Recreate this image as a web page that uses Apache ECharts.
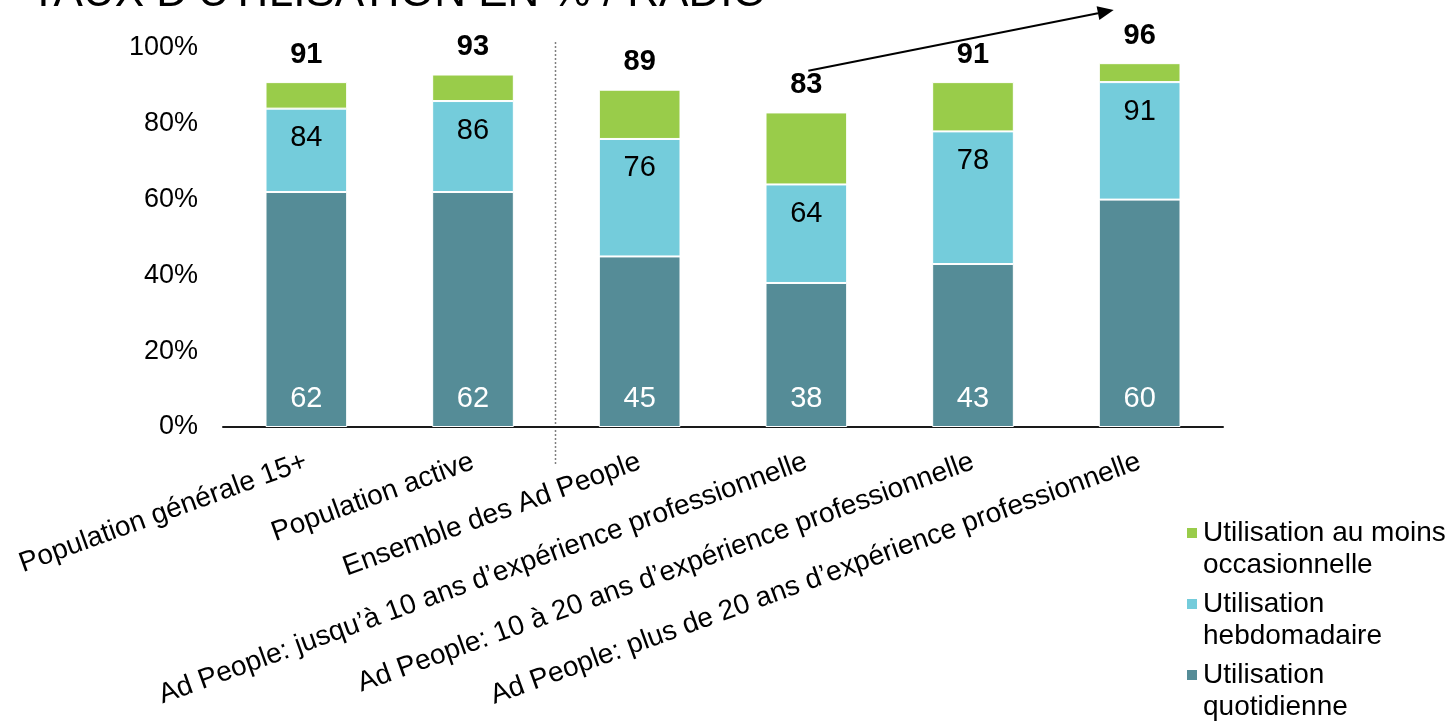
<!DOCTYPE html>
<html>
<head>
<meta charset="utf-8">
<script src="https://cdn.jsdelivr.net/npm/echarts@6/dist/echarts.min.js"></script>
<style>
  html, body { margin: 0; padding: 0; background: #ffffff; }
  #chart { width: 1450px; height: 721px; }
</style>
</head>
<body>
<div id="chart"></div>
<script>
// Radio usage rates (%), by population group
const categories = [
  'Population générale 15+',
  'Population active',
  'Ensemble des Ad People',
  'Ad People: jusqu’à 10 ans d’expérience professionnelle',
  'Ad People: 10 à 20 ans d’expérience professionnelle',
  'Ad People: plus de 20 ans d’expérience professionnelle'
];
// Daily use
const dailyValues = [62, 62, 45, 38, 43, 60];
// Weekly use (cumulative: includes daily)
const weeklyCumulative = [84, 86, 76, 64, 78, 91];
// At least occasional use (cumulative: includes weekly)
const occasionalCumulative = [91, 93, 89, 83, 91, 96];

const seriesNames = ['Utilisation quotidienne', 'Utilisation hebdomadaire', 'Utilisation au moins occasionnelle'];
const legendLabels = {
  'Utilisation au moins occasionnelle': 'Utilisation au moins\noccasionnelle',
  'Utilisation hebdomadaire': 'Utilisation\nhebdomadaire',
  'Utilisation quotidienne': 'Utilisation\nquotidienne'
};
const titleText = 'TAUX D’UTILISATION EN % / RADIO';

// stacked segments derived from the cumulative figures
const weeklySegment = weeklyCumulative.map((v, i) => v - dailyValues[i]);
const occasionalSegment = occasionalCumulative.map((v, i) => v - weeklyCumulative[i]);

const FONT = '"Liberation Sans", Arial, sans-serif';
const COLOR_DAILY = '#558C97';
const COLOR_WEEKLY = '#74CCDB';
const COLOR_OCC = '#99CC4A';

const chart = echarts.init(document.getElementById('chart'), null, { renderer: 'canvas' });

const barBorder = { borderColor: '#ffffff', borderWidth: 1 };

const option = {
  animation: false,
  backgroundColor: '#ffffff',
  textStyle: { fontFamily: FONT },
  grid: { left: 223, right: 227, top: 48, bottom: 294 },
  legend: {
    orient: 'vertical',
    left: 1185,
    top: 485,
    height: 320,
    padding: 0,
    itemWidth: 12,
    itemHeight: 12,
    // each label carries a leading empty line so the swatch sits beside its first line
    itemGap: -25,
    icon: 'rect',
    data: [seriesNames[2], seriesNames[1], seriesNames[0]],
    formatter: name => '\n' + legendLabels[name],
    textStyle: { fontFamily: FONT, fontSize: 28, lineHeight: 32, color: '#000000' },
    selectedMode: false
  },
  xAxis: {
    type: 'category',
    data: categories,
    axisLine: { lineStyle: { color: '#1a1a1a', width: 2 } },
    axisTick: { show: false },
    axisLabel: {
      interval: 0,
      rotate: 20,
      margin: 34,
      fontFamily: FONT,
      fontSize: 28,
      color: '#000000'
    }
  },
  yAxis: {
    type: 'value',
    min: 0,
    max: 100,
    interval: 20,
    axisLine: { show: false },
    axisTick: { show: false },
    splitLine: { show: false },
    axisLabel: {
      formatter: '{value}%',
      margin: 25,
      fontFamily: FONT,
      fontSize: 27,
      color: '#000000'
    }
  },
  series: [
    {
      name: seriesNames[0],
      type: 'bar',
      stack: 'usage',
      barWidth: '49%',
      data: dailyValues,
      itemStyle: Object.assign({ color: COLOR_DAILY }, barBorder),
      label: {
        show: true,
        position: 'insideBottom',
        distance: 14,
        color: '#ffffff',
        fontFamily: FONT,
        fontSize: 29
      }
    },
    {
      name: seriesNames[1],
      type: 'bar',
      stack: 'usage',
      data: weeklySegment,
      itemStyle: Object.assign({ color: COLOR_WEEKLY }, barBorder),
      label: {
        show: true,
        position: 'insideTop',
        distance: 15,
        color: '#000000',
        fontFamily: FONT,
        fontSize: 29,
        formatter: p => String(weeklyCumulative[p.dataIndex])
      }
    },
    {
      name: seriesNames[2],
      type: 'bar',
      stack: 'usage',
      data: occasionalSegment,
      itemStyle: Object.assign({ color: COLOR_OCC }, barBorder),
      label: {
        show: true,
        position: 'top',
        distance: 13,
        color: '#000000',
        fontFamily: FONT,
        fontSize: 29,
        fontWeight: 'bold',
        formatter: p => String(occasionalCumulative[p.dataIndex])
      }
    }
  ]
};

chart.setOption(option);

// Annotations placed from the axes' own scales
const toPx = (cat, val) => chart.convertToPixel({ xAxisIndex: 0, yAxisIndex: 0 }, [cat, val]);
const c1 = toPx(1, 0);
const c2 = toPx(2, 0);
const sepX = Math.round((c1[0] + c2[0]) / 2) - 0.5;

// trend arrow from the 83 total towards the 96 total
const aStart = toPx(3, 94);
const aEndCenter = toPx(5, 110);
const aEnd = [aEndCenter[0] - 26, aEndCenter[1]];
const ang = Math.atan2(aEnd[1] - aStart[1], aEnd[0] - aStart[0]);
const headLen = 16, headHalf = 7;
const back = [aEnd[0] - headLen * Math.cos(ang), aEnd[1] - headLen * Math.sin(ang)];
const perp = [-Math.sin(ang), Math.cos(ang)];

chart.setOption({
  graphic: [
    {
      type: 'text',
      x: 30,
      y: -6,
      silent: true,
      style: {
        text: titleText,
        font: '44px ' + FONT,
        fill: '#000000',
        verticalAlign: 'middle'
      }
    },
    {
      type: 'line',
      silent: true,
      shape: { x1: sepX, y1: 42, x2: sepX, y2: 466 },
      style: { stroke: '#7f7f7f', lineWidth: 1.5, lineDash: [2, 2] }
    },
    {
      type: 'line',
      silent: true,
      shape: { x1: aStart[0] + 2, y1: aStart[1], x2: back[0], y2: back[1] },
      style: { stroke: '#000000', lineWidth: 2 }
    },
    {
      type: 'polygon',
      silent: true,
      shape: {
        points: [
          aEnd,
          [back[0] + perp[0] * headHalf, back[1] + perp[1] * headHalf],
          [back[0] - perp[0] * headHalf, back[1] - perp[1] * headHalf]
        ]
      },
      style: { fill: '#000000' }
    }
  ]
});
</script>
</body>
</html>
